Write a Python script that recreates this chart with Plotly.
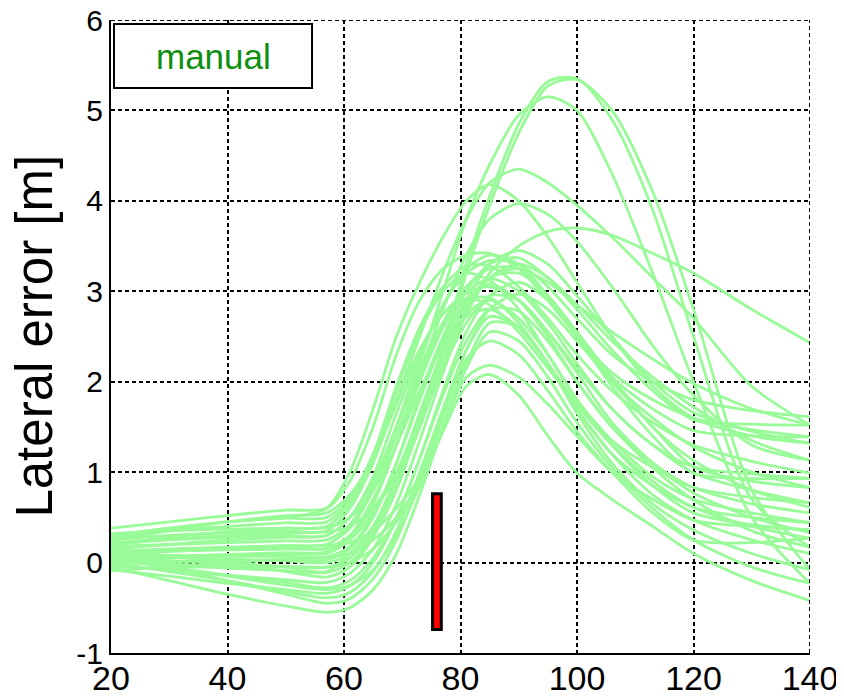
import plotly.graph_objects as go

# distance along the path [m] at which each run's lateral error was read
distance = [20, 30, 40, 50, 57, 61, 65, 69, 73, 77, 81, 85, 90, 95, 100, 106, 113, 120, 130, 140]

# lateral error [m] of each manual run
run01 = [0.12, 0.15, 0.17, 0.18, 0.15, 0.3, 0.6, 1.0, 1.6, 2.4, 3.3, 4.05, 4.85, 5.32, 5.35, 4.9, 3.9, 2.5, 0.7, 0.17]
run02 = [0.05, 0.02, 0.0, -0.05, -0.1, 0.1, 0.4, 0.9, 1.5, 2.3, 3.2, 3.95, 4.75, 5.27, 5.34, 5.0, 4.1, 2.8, 0.8, -0.08]
run03 = [0.2, 0.25, 0.28, 0.3, 0.3, 0.5, 0.9, 1.5, 2.2, 3.0, 3.8, 4.4, 4.95, 5.15, 5.0, 4.3, 3.2, 2.0, 0.5, -0.23]
run04 = [0.25, 0.3, 0.33, 0.35, 0.35, 0.6, 1.1, 1.8, 2.5, 3.2, 3.8, 4.2, 4.35, 4.2, 3.95, 3.6, 3.15, 2.7, 1.95, 1.52]
run05 = [0.3, 0.38, 0.45, 0.5, 0.6, 1.0, 1.7, 2.5, 3.1, 3.6, 4.0, 4.18, 4.0, 3.6, 3.1, 2.5, 1.95, 1.6, 1.4, 1.32]
run06 = [0.1, 0.12, 0.15, 0.18, 0.2, 0.4, 0.8, 1.4, 2.1, 2.8, 3.4, 3.8, 3.97, 3.85, 3.55, 3.05, 2.4, 1.85, 1.3, 1.13]
run07 = [0.0, 0.05, 0.08, 0.1, 0.1, 0.25, 0.55, 1.0, 1.6, 2.2, 2.75, 3.2, 3.5, 3.66, 3.7, 3.62, 3.42, 3.2, 2.8, 2.43]
run08 = [0.38, 0.45, 0.52, 0.58, 0.6, 0.9, 1.5, 2.3, 2.9, 3.25, 3.4, 3.42, 3.25, 2.9, 2.5, 2.1, 1.8, 1.6, 1.47, 1.39]
run09 = [0.3, 0.38, 0.45, 0.49, 0.5, 0.72, 1.2, 1.95, 2.6, 3.05, 3.28, 3.28, 3.05, 2.7, 2.3, 1.9, 1.55, 1.3, 1.12, 0.99]
run10 = [0.2, 0.28, 0.34, 0.38, 0.4, 0.65, 1.15, 1.9, 2.55, 3.0, 3.2, 3.12, 2.8, 2.3, 1.8, 1.35, 0.95, 0.7, 0.55, 0.44]
run11 = [0.15, 0.2, 0.25, 0.28, 0.3, 0.5, 0.95, 1.65, 2.3, 2.85, 3.2, 3.34, 3.3, 3.05, 2.7, 2.3, 2.0, 1.8, 1.68, 1.61]
run12 = [0.28, 0.35, 0.4, 0.44, 0.45, 0.68, 1.15, 1.8, 2.35, 2.75, 2.98, 3.05, 2.9, 2.55, 2.15, 1.7, 1.3, 1.06, 0.98, 0.93]
run13 = [0.1, 0.13, 0.16, 0.19, 0.2, 0.38, 0.8, 1.5, 2.25, 2.85, 3.25, 3.4, 3.3, 2.95, 2.5, 2.05, 1.7, 1.46, 1.4, 1.39]
run14 = [0.05, 0.07, 0.09, 0.11, 0.12, 0.28, 0.65, 1.3, 2.05, 2.65, 3.05, 3.25, 3.25, 2.95, 2.5, 2.0, 1.6, 1.28, 1.0, 0.83]
run15 = [0.18, 0.2, 0.22, 0.24, 0.25, 0.42, 0.85, 1.5, 2.15, 2.65, 2.9, 2.93, 2.65, 2.2, 1.7, 1.2, 0.85, 0.61, 0.4, 0.27]
run16 = [0.12, 0.13, 0.14, 0.15, 0.16, 0.3, 0.7, 1.3, 2.0, 2.6, 2.98, 3.14, 3.0, 2.65, 2.2, 1.7, 1.3, 0.99, 0.8, 0.66]
run17 = [0.0, 0.01, 0.02, 0.03, 0.03, 0.15, 0.5, 1.1, 1.85, 2.5, 3.0, 3.3, 3.37, 3.15, 2.8, 2.35, 1.9, 1.58, 1.53, 1.52]
run18 = [0.08, 0.08, 0.07, 0.07, 0.06, 0.18, 0.52, 1.1, 1.8, 2.45, 2.9, 3.08, 2.9, 2.5, 2.0, 1.5, 1.1, 0.83, 0.65, 0.55]
run19 = [-0.05, -0.05, -0.05, -0.05, -0.05, 0.05, 0.35, 0.9, 1.65, 2.35, 2.85, 3.15, 3.2, 2.95, 2.55, 2.05, 1.5, 1.13, 0.8, 0.61]
run20 = [0.1, 0.07, 0.04, 0.02, 0.0, 0.1, 0.4, 0.95, 1.65, 2.3, 2.75, 2.9, 2.7, 2.3, 1.8, 1.3, 0.85, 0.55, 0.42, 0.36]
run21 = [0.02, -0.02, -0.06, -0.09, -0.11, 0.0, 0.3, 0.8, 1.55, 2.3, 2.9, 3.3, 3.45, 3.3, 2.95, 2.5, 2.0, 1.66, 1.45, 1.32]
run22 = [0.15, 0.07, 0.0, -0.1, -0.16, -0.05, 0.28, 0.82, 1.5, 2.15, 2.65, 2.95, 2.9, 2.55, 2.1, 1.55, 1.1, 0.77, 0.5, 0.33]
run23 = [-0.02, -0.08, -0.14, -0.19, -0.22, -0.12, 0.15, 0.65, 1.35, 2.1, 2.75, 3.15, 3.3, 3.15, 2.85, 2.45, 2.05, 1.72, 1.35, 1.13]
run24 = [0.05, -0.05, -0.14, -0.22, -0.28, -0.2, 0.05, 0.5, 1.15, 1.85, 2.45, 2.8, 2.78, 2.45, 2.0, 1.5, 1.05, 0.69, 0.35, 0.17]
run25 = [-0.08, -0.15, -0.23, -0.3, -0.34, -0.26, 0.0, 0.48, 1.15, 1.9, 2.55, 2.95, 3.1, 2.9, 2.5, 1.95, 1.4, 0.99, 0.93, 0.93]
run26 = [0.0, -0.1, -0.2, -0.32, -0.39, -0.33, -0.1, 0.35, 1.0, 1.7, 2.35, 2.72, 2.6, 2.2, 1.7, 1.2, 0.75, 0.47, 0.25, 0.1]
run27 = [0.08, -0.05, -0.2, -0.35, -0.45, -0.4, -0.18, 0.25, 0.9, 1.65, 2.35, 2.8, 2.97, 2.8, 2.45, 2.0, 1.5, 1.06, 0.9, 0.83]
run28 = [-0.05, -0.2, -0.35, -0.48, -0.55, -0.5, -0.3, 0.1, 0.75, 1.5, 2.2, 2.65, 2.6, 2.2, 1.65, 1.1, 0.65, 0.36, 0.1, -0.08]
run29 = [0.05, -0.05, -0.15, -0.25, -0.3, -0.25, -0.08, 0.3, 0.85, 1.5, 2.15, 2.55, 2.45, 2.05, 1.55, 1.05, 0.6, 0.25, -0.05, -0.23]
run30 = [0.12, 0.14, 0.16, 0.18, 0.19, 0.22, 0.35, 0.6, 0.95, 1.6, 2.25, 2.45, 2.3, 1.9, 1.45, 1.0, 0.55, 0.25, 0.22, 0.27]
run31 = [-0.09, -0.05, 0.0, 0.04, 0.06, 0.1, 0.25, 0.5, 0.9, 1.5, 2.05, 2.18, 2.05, 1.75, 1.4, 1.0, 0.7, 0.47, 0.4, 0.36]
run32 = [0.0, -0.02, -0.03, -0.04, -0.05, 0.0, 0.15, 0.45, 0.85, 1.45, 1.95, 2.08, 1.85, 1.4, 0.99, 0.7, 0.4, 0.1, -0.2, -0.42]
run33 = [0.22, 0.26, 0.3, 0.33, 0.34, 0.4, 0.6, 0.95, 1.5, 2.2, 2.8, 3.15, 3.25, 3.1, 2.85, 2.55, 2.25, 1.98, 1.7, 1.52]
run34 = [0.25, 0.35, 0.45, 0.52, 0.55, 0.75, 1.15, 1.75, 2.35, 2.75, 2.92, 2.85, 2.55, 2.15, 1.75, 1.35, 1.05, 0.83, 0.72, 0.66]
run35 = [0.32, 0.35, 0.37, 0.38, 0.39, 0.5, 0.8, 1.3, 1.9, 2.4, 2.72, 2.8, 2.6, 2.2, 1.75, 1.3, 0.9, 0.61, 0.5, 0.44]

runs = [run01, run02, run03, run04, run05, run06, run07, run08, run09, run10,
        run11, run12, run13, run14, run15, run16, run17, run18, run19, run20,
        run21, run22, run23, run24, run25, run26, run27, run28, run29, run30,
        run31, run32, run33, run34, run35]

# event marker (red bar)
marker_x = [75.2, 76.7]
marker_y = [-0.74, 0.76]

x_ticks = [20, 40, 60, 80, 100, 120, 140]
y_ticks = [-1, 0, 1, 2, 3, 4, 5, 6]
legend_text = "manual"
y_title = "Lateral error [m]"

fig = go.Figure()
for r in runs:
    fig.add_trace(go.Scatter(
        x=distance, y=r, mode="lines",
        line=dict(color="#98FB98", width=2.8, shape="spline", smoothing=0.8),
        showlegend=False, hoverinfo="skip"))

fig.add_shape(type="rect", xref="x", yref="y",
              x0=marker_x[0], x1=marker_x[1], y0=marker_y[0], y1=marker_y[1],
              fillcolor="red", line=dict(color="black", width=3), layer="above")

# dashed grid lines at the top and right edges of the axes
fig.add_shape(type="line", xref="paper", yref="y", x0=0, x1=1, y0=y_ticks[-1], y1=y_ticks[-1],
              line=dict(color="black", width=2, dash="4px,3px"), layer="above")
fig.add_shape(type="line", xref="x", yref="paper", x0=x_ticks[-1], x1=x_ticks[-1], y0=0, y1=1,
              line=dict(color="black", width=2, dash="4px,3px"), layer="above")

# legend box
fig.add_shape(type="rect", xref="paper", yref="paper",
              x0=0.0043, x1=0.2876, y0=0.8926, y1=0.9937,
              fillcolor="white", line=dict(color="black", width=2), layer="above")
fig.add_annotation(xref="paper", yref="paper", x=0.146, y=0.943,
                   text=legend_text, showarrow=False,
                   font=dict(family="Liberation Sans, Arial", size=35, color="#0f8f0f"),
                   xanchor="center", yanchor="middle")

fig.add_annotation(xref="paper", yref="paper", x=-0.11, y=0.5,
                   text=y_title, showarrow=False, textangle=-90,
                   font=dict(family="Liberation Sans, Arial", size=51, color="black"),
                   xanchor="center", yanchor="middle")

grid = dict(showgrid=True, gridcolor="black", gridwidth=2, griddash="4px,3px",
            showline=True, linecolor="black", linewidth=2, zeroline=False,
            ticks="", mirror=False, automargin=False, ticklabeloverflow="allow")

fig.update_layout(
    width=836, height=690,
    margin=dict(l=103, r=34, t=12, b=45),
    paper_bgcolor="white", plot_bgcolor="white",
    xaxis=dict(range=[20, 140], tickvals=x_ticks, ticktext=[str(v) for v in x_ticks],
               tickfont=dict(family="Liberation Sans, Arial", size=34, color="black"),
               ticklabelstandoff=-6, **grid),
    yaxis=dict(range=[-1, 6], tickvals=y_ticks, ticktext=[str(v) for v in y_ticks],
               tickfont=dict(family="Liberation Sans, Arial", size=30, color="black"),
               **grid),
)

fig.write_html("out.html")
